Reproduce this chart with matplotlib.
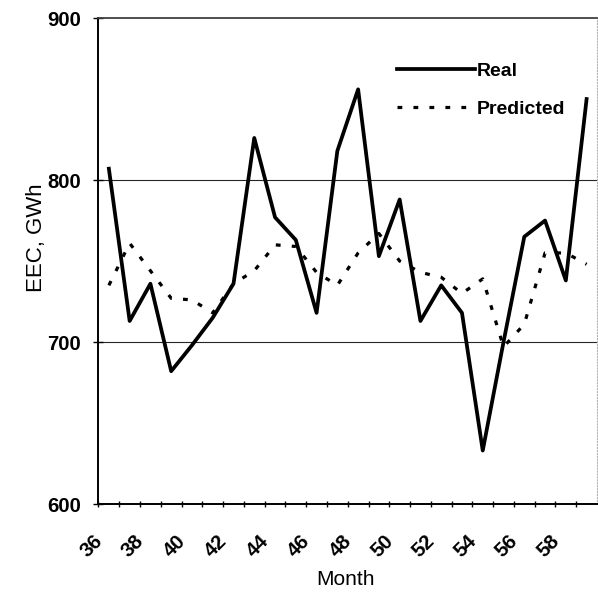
import matplotlib
matplotlib.use('Agg')
import matplotlib.pyplot as plt
import matplotlib.transforms as mtransforms
from matplotlib.lines import Line2D

plt.rcParams['font.family'] = ['Liberation Sans', 'DejaVu Sans']

# Monthly electrical energy consumption (GWh)
months = list(range(36, 60))
real = [807, 713, 736, 682, 698, 715, 736, 826, 777, 763, 718, 818,
        856, 753, 788, 713, 735, 718, 633, 700, 765, 775, 738, 850]
predicted = [735, 761, 744, 727, 726, 718, 736, 744, 760, 759, 743, 735,
             755, 767, 750, 743, 740, 730, 739, 697, 711, 755, 755, 748]
label_months = list(range(36, 60, 2))
yticks = [600, 700, 800, 900]

fig = plt.figure(figsize=(5.98, 5.92), dpi=100)
ax = fig.add_axes([0.1647, 0.1486, 0.8336, 0.8209])

# reference lines at 700 and 800
for yv in (700, 800):
    ax.axhline(yv, color='0.15', lw=0.8, zorder=1)

pred_dash = (1.5, 3.5)
ax.plot(months, real, color='black', lw=2.7, zorder=3)
ax.plot(months, predicted, color='black', lw=2.3, dashes=pred_dash,
        dash_capstyle='butt', zorder=2)

ax.set_xlim(35.5, 59.5)
ax.set_ylim(600, 900)

# y axis
ax.set_yticks(yticks)
ax.set_yticklabels([str(v) for v in yticks], fontsize=14.7, fontweight='bold')
ax.tick_params(axis='y', direction='inout', length=7, width=1, pad=9)

# x axis: tick marks between months, labels every other month
ax.set_xticks([m + 0.5 for m in range(35, 59)])
ax.set_xticklabels([])
ax.tick_params(axis='x', direction='inout', length=5, width=1)
ax.set_xticks(label_months, minor=True)
ax.set_xticklabels([str(m) for m in label_months], minor=True, rotation=45,
                   ha='right', va='top', rotation_mode='anchor',
                   fontsize=14.7, fontweight='bold')
ax.tick_params(axis='x', which='minor', length=0, pad=20)
shift = mtransforms.ScaledTranslation(-0.16, 0, fig.dpi_scale_trans)
for lab in ax.get_xticklabels(minor=True):
    lab.set_transform(lab.get_transform() + shift)

ax.set_ylabel('EEC, GWh', fontsize=16)
ax.yaxis.set_label_coords(-0.104, 0.549)
ax.set_xlabel('Month', fontsize=15)
ax.xaxis.set_label_coords(0.496, -0.136)

for side in ('left', 'bottom'):
    ax.spines[side].set_linewidth(1.4)
ax.spines['top'].set_color('0.25')
ax.spines['top'].set_linewidth(1.3)
ax.spines['right'].set_color('0.7')
ax.spines['right'].set_linestyle(':')
ax.spines['right'].set_linewidth(0.8)

handles = [Line2D([], [], color='black', lw=2.7),
           Line2D([], [], color='black', lw=2.3, dashes=pred_dash,
                  dash_capstyle='butt')]
ax.legend(handles, ['Real', 'Predicted'], loc='upper left',
          bbox_to_anchor=(0.599, 0.909), frameon=False,
          prop={'size': 14, 'weight': 'bold'},
          handlelength=4.0, handletextpad=0.12, labelspacing=1.05,
          borderpad=0, borderaxespad=0)

fig.savefig('out.png', dpi=100)
